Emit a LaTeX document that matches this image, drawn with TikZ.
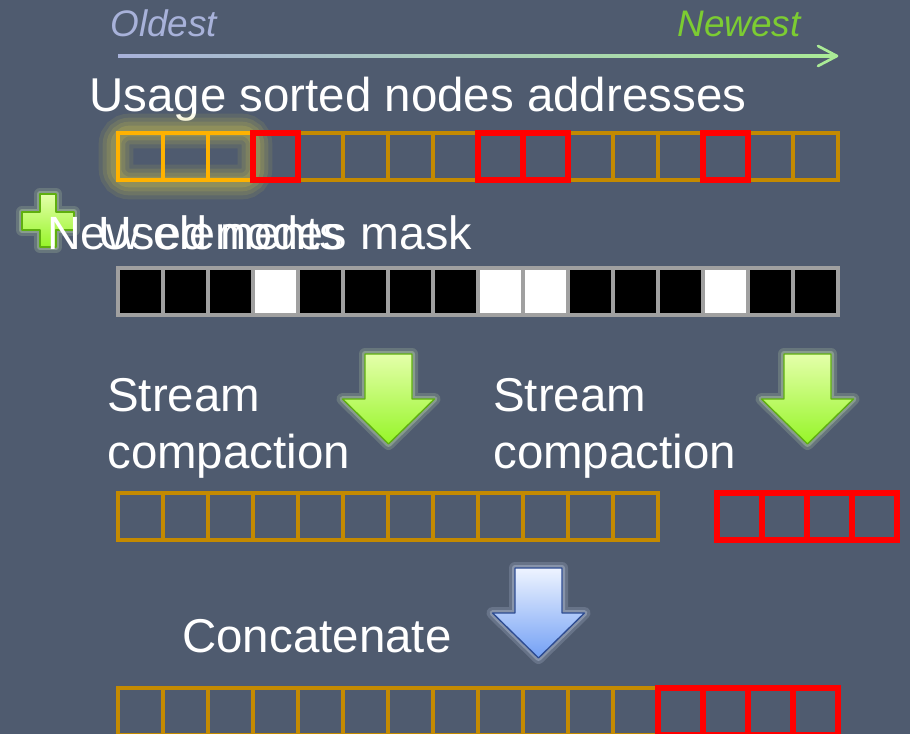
\documentclass[tikz,border=0pt]{standalone}
\usepackage{fontspec}
\setmainfont{Liberation Sans}
\usetikzlibrary{positioning, calc}
\definecolor{slidebg}{RGB}{79,91,111}
\definecolor{cellgold}{RGB}{196,138,0}
\definecolor{cellhot}{RGB}{255,178,0}
\definecolor{cellred}{RGB}{255,0,0}
\definecolor{maskgrey}{RGB}{160,160,160}
\definecolor{oldcol}{RGB}{168,178,218}
\definecolor{newcol}{RGB}{124,204,50}
\definecolor{newline}{RGB}{170,235,150}
\definecolor{glowyel}{RGB}{225,210,70}
\definecolor{greentop}{RGB}{228,255,170}
\definecolor{greenbot}{RGB}{150,245,40}
\definecolor{greenedge}{RGB}{95,175,15}
\definecolor{greenglow}{RGB}{215,245,185}
\definecolor{bluetop}{RGB}{238,244,255}
\definecolor{bluebot}{RGB}{115,160,245}
\definecolor{blueedge}{RGB}{45,75,145}
\definecolor{blueglow}{RGB}{215,225,250}

% outline of a fat down arrow: centre x, top y
\newcommand{\fatpath}[2]{(#1-23.5,#2) -- (#1+23.5,#2) -- (#1+23.5,#2+45) -- (#1+46,#2+45) -- (#1,#2+90) -- (#1-46,#2+45) -- (#1-23.5,#2+45) -- cycle}
% outline of the plus sign
\newcommand{\pluspath}{(40,194) -- (56,194) -- (56,212) -- (74,212) -- (74,230) -- (56,230) -- (56,247) -- (40,247) -- (40,230) -- (22,230) -- (22,212) -- (40,212) -- cycle}
% fat arrow with glow: centre x, top y, top colour, bottom colour, edge, glow
\newcommand{\fatarrow}[6]{%
  \draw[#6, line width=9pt, opacity=0.18, line join=round] \fatpath{#1}{#2};
  \draw[#6, line width=4.5pt, opacity=0.3, line join=round] \fatpath{#1}{#2};
  \draw[top color=#3, bottom color=#4, draw=#5, line width=1pt, line join=round] \fatpath{#1}{#2};
}

\begin{document}
\begin{tikzpicture}[
        x=0.75pt, y=-0.75pt,
        cell/.style={draw=cellgold, line width=3pt, minimum width=33.75pt, minimum height=35.25pt, inner sep=0pt},
        hotcell/.style={cell, draw=cellhot},
        redcell/.style={cell, draw=cellred, line width=4.5pt},
        maskcell/.style={cell, draw=maskgrey, fill=black, line width=2.6pt},
        lbl/.style={text=white, font=\fontsize{35.6}{42}\selectfont, inner sep=0pt, anchor=base west},
        axislbl/.style={font=\fontsize{27.7}{33}\selectfont\itshape, inner sep=0pt}
    ]
    \useasboundingbox (0,0) rectangle (910,734);
    \fill[slidebg] (0,0) rectangle (910,734);

    % Age axis
    \node[axislbl, text=oldcol, anchor=base west] (oldest) at (110,37) {Oldest};
    \node[axislbl, text=newcol, anchor=base east] (newest) at (801,37) {Newest};
    \coordinate (old) at (118,56);
    \coordinate (new) at (837,56);
    \shade[left color=oldcol, right color=newline] ($(old)+(0,-1.3)$) rectangle ($(new)+(-1,1.3)$);
    \draw[newline, line width=2pt, line cap=round, line join=round] ($(new)+(-19,-10)$) -- (new) -- ($(new)+(-19,10)$);

    % Usage sorted addresses
    \node[lbl] (usage) at (89,112) {Usage sorted nodes addresses};
    \foreach \i in {0,...,15}
        \node[cell] (u\i) at (140.5+45*\i,156.5) {};
    \foreach \w/\o in {26/0.1, 20/0.12, 14/0.14, 8/0.18}
        \draw[glowyel, line width=\w pt, opacity=\o, rounded corners=10pt] (u0.north west) rectangle (u2.south east);
    \foreach \i in {0,1,2}
        \node[hotcell] (uh\i) at (u\i) {};
    \foreach \i in {3,8,9,13}
        \node[redcell] (ur\i) at (u\i) {};

    % New elements / mask
    \draw[greenglow, line width=9pt, opacity=0.18, line join=round] \pluspath;
    \draw[greenglow, line width=4.5pt, opacity=0.3, line join=round] \pluspath;
    \draw[top color=greentop, bottom color=greenbot, draw=greenedge, line width=1pt, line join=round] \pluspath;
    \node[lbl, font=\fontsize{35}{42}\selectfont] (newel) at (47,250) {New elements};
    \node[lbl, font=\fontsize{35}{42}\selectfont] (mask) at (98,250) {Used nodes mask};
    \foreach \i in {0,...,15}
        \node[maskcell] (m\i) at (140.5+45*\i,291.5) {};
    \foreach \i in {3,8,9,13}
        \node[maskcell, fill=white] (mw\i) at (m\i) {};

    % Stream compaction
    \node[lbl] (sc1a) at (107,411) {Stream};
    \node[lbl] (sc1b) at (107,468) {compaction};
    \node[lbl] (sc2a) at (493,411) {Stream};
    \node[lbl] (sc2b) at (493,468) {compaction};
    \fatarrow{388.5}{354}{greentop}{greenbot}{greenedge}{greenglow}
    \fatarrow{807.5}{354}{greentop}{greenbot}{greenedge}{greenglow}
    \foreach \i in {0,...,11}
        \node[cell] (a\i) at (140.5+45*\i,516.5) {};
    \foreach \i in {0,...,3}
        \node[redcell] (b\i) at (739+45*\i,516.5) {};

    % Concatenate
    \node[lbl] (concat) at (182,652) {Concatenate};
    \fatarrow{538.5}{568}{bluetop}{bluebot}{blueedge}{blueglow}
    \foreach \i in {0,...,11}
        \node[cell] (c\i) at (140.5+45*\i,711.5) {};
    \foreach \i in {12,...,15}
        \node[redcell] (c\i) at (140.5+45*\i,711.5) {};

\end{tikzpicture}
\end{document}
